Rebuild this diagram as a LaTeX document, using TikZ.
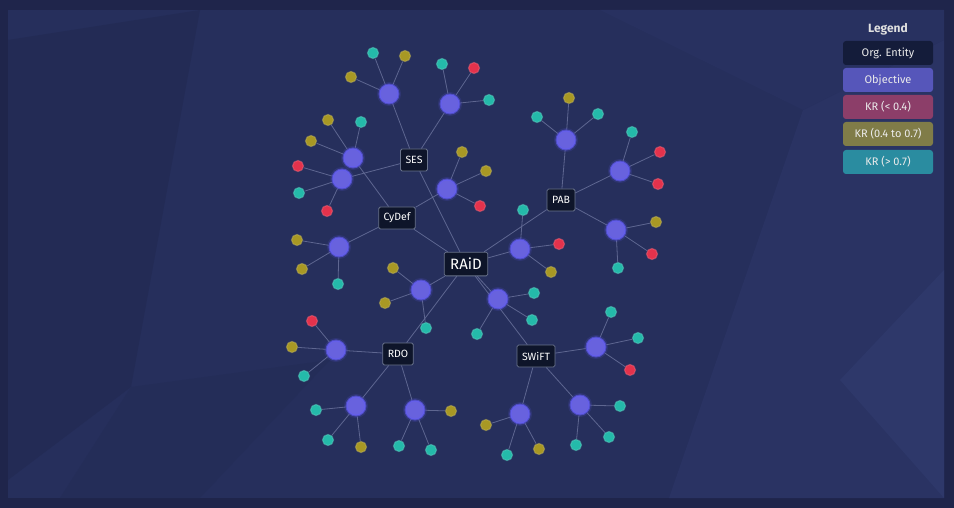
\documentclass[tikz,border=0pt]{standalone}
\usepackage{fontspec}
\setmainfont{Fira Sans}

\definecolor{frame}{RGB}{31,37,75}
\definecolor{panel}{RGB}{38,47,92}
\definecolor{polydark}{RGB}{35,43,85}
\definecolor{polylight}{RGB}{42,51,99}
\definecolor{polylighter}{RGB}{46,56,106}
\definecolor{orgfill}{RGB}{14,21,42}
\definecolor{orgline}{RGB}{105,115,140}
\definecolor{objfill}{RGB}{104,98,222}
\definecolor{objring}{RGB}{98,92,245}
\definecolor{krred}{RGB}{228,50,76}
\definecolor{kryel}{RGB}{168,152,36}
\definecolor{krteal}{RGB}{36,186,170}
\definecolor{linkcol}{RGB}{108,116,158}
\definecolor{legorg}{RGB}{20,28,58}
\definecolor{legobj}{RGB}{86,86,186}
\definecolor{legred}{RGB}{140,62,105}
\definecolor{legyel}{RGB}{128,124,72}
\definecolor{legteal}{RGB}{42,140,160}

\pgfdeclarelayer{bg}
\pgfdeclarelayer{links}
\pgfsetlayers{bg,links,main}

\tikzset{
  org/.style={draw=orgline, fill=orgfill, line width=0.8pt, rounded corners=1.5pt,
    text=white, inner sep=5pt, minimum height=22pt, font=\fontsize{10.5}{10.5}\selectfont},
  obj/.style={circle, inner sep=0pt, minimum size=19pt, fill=objfill,
    draw=objring, draw opacity=0.6, line width=2pt,
    preaction={draw=objring, line width=5pt, draw opacity=0.15}},
  kr/.style={circle, inner sep=0pt, minimum size=11pt, line width=1.2pt},
  link/.style={draw=linkcol, line width=0.8pt, opacity=0.8},
  legbox/.style={rounded corners=3pt, minimum width=90pt, minimum height=24pt,
    text=white!92!black, font=\fontsize{11}{11}\selectfont}
}

\begin{document}
\begin{tikzpicture}[x=1pt, y=-1pt]
\useasboundingbox (0,0) rectangle (954,508);

% background panel
\begin{pgfonlayer}{bg}
\fill[frame] (0,0) rectangle (954,508);
\fill[panel] (8,10) rectangle (944,498);
\begin{scope}
\clip (8,10) rectangle (944,498);
\fill[polydark] (8,40) -- (200,10) -- (131,387) -- cycle;
\fill[polydark] (8,40) -- (131,387) -- (8,480) -- cycle;
\fill[polydark!60!panel] (131,387) -- (330,360) -- (200,498) -- (60,498) -- cycle;
\fill[polylight] (803,110) -- (944,40) -- (944,498) -- (669,498) -- cycle;
\fill[polylighter] (944,270) -- (840,380) -- (944,498) -- cycle;
\fill[polylight!50!panel] (600,10) -- (944,10) -- (944,40) -- (803,110) -- cycle;
\end{scope}
\end{pgfonlayer}

% org entities
\node[org, inner sep=6pt, font=\fontsize{15}{15}\selectfont] (raid) at (466,264) {RAiD};
\node[org] (ses) at (414,160) {SES};
\node[org] (cydef) at (397,218) {CyDef};
\node[org] (pab) at (561,200) {PAB};
\node[org] (rdo) at (398,354) {RDO};
\node[org] (swift) at (536,356) {SWiFT};

% objectives
\foreach \o/\x/\y in {ses1/389/94, ses2/450/104, ses3/342/179,
    cyd1/353/158, cyd2/447/189, cyd3/339/247,
    raid1/520/249, raid2/421/290, raid3/498/299,
    pab1/566/140, pab2/620/171, pab3/616/230,
    rdo1/336/350, rdo2/356/406, rdo3/415/410,
    swf1/596/347, swf2/520/414, swf3/580/405}
  \node[obj] (\o) at (\x,\y) {};

% links between entities and objectives
\begin{pgfonlayer}{links}
\foreach \a/\b in {raid/ses, raid/cydef, raid/pab, raid/rdo, raid/swift,
    raid/raid1, raid/raid2, raid/raid3,
    ses/ses1, ses/ses2, ses/ses3,
    cydef/cyd1, cydef/cyd2, cydef/cyd3,
    pab/pab1, pab/pab2, pab/pab3,
    rdo/rdo1, rdo/rdo2, rdo/rdo3,
    swift/swf1, swift/swf2, swift/swf3}
  \draw[link] (\a) -- (\b);
\end{pgfonlayer}

% key results
\foreach \p/\x/\y/\c in {ses1/373/53/krteal, ses1/405/56/kryel, ses1/351/77/kryel,
    ses2/442/64/krteal, ses2/474/68/krred, ses2/489/100/krteal,
    ses3/298/166/krred, ses3/299/193/krteal, ses3/327/211/krred,
    cyd1/328/120/kryel, cyd1/361/122/krteal, cyd1/311/141/kryel,
    cyd2/462/152/kryel, cyd2/486/171/kryel, cyd2/480/206/krred,
    cyd3/297/240/kryel, cyd3/302/269/kryel, cyd3/338/284/krteal,
    raid1/523/210/krteal, raid1/559/244/krred, raid1/551/272/kryel,
    raid2/393/268/kryel, raid2/385/303/kryel, raid2/426/328/krteal,
    raid3/534/293/krteal, raid3/532/320/krteal, raid3/477/334/krteal,
    pab1/569/98/kryel, pab1/537/117/krteal, pab1/598/114/krteal,
    pab2/632/132/krteal, pab2/660/152/krred, pab2/658/184/krred,
    pab3/656/222/kryel, pab3/652/254/krred, pab3/618/268/krteal,
    rdo1/312/321/krred, rdo1/292/347/kryel, rdo1/304/376/krteal,
    rdo2/316/410/krteal, rdo2/328/440/krteal, rdo2/361/447/kryel,
    rdo3/451/411/kryel, rdo3/399/446/krteal, rdo3/431/450/krteal,
    swf1/611/312/krteal, swf1/638/338/krteal, swf1/630/370/krred,
    swf2/486/425/kryel, swf2/507/455/krteal, swf2/539/449/kryel,
    swf3/620/406/krteal, swf3/609/437/krteal, swf3/576/445/krteal}
{
  \node[kr, fill=\c, draw=\c!75!white, draw opacity=0.5] (kr-\x-\y) at (\x,\y) {};
  \begin{pgfonlayer}{links}
  \draw[link] (\p) -- (kr-\x-\y);
  \end{pgfonlayer}
}

% legend
\node[text=white!88!black, font=\fontsize{12}{12}\selectfont\bfseries] (legtitle) at (888,29) {Legend};
\node[legbox, fill=legorg] (legorg) at (888,53) {Org. Entity};
\node[legbox, fill=legobj] (legobj) at (888,80) {Objective};
\node[legbox, fill=legred] (legred) at (888,107) {KR (< 0.4)};
\node[legbox, fill=legyel] (legyel) at (888,134) {KR (0.4 to 0.7)};
\node[legbox, fill=legteal] (legteal) at (888,162) {KR (> 0.7)};
\end{tikzpicture}
\end{document}
